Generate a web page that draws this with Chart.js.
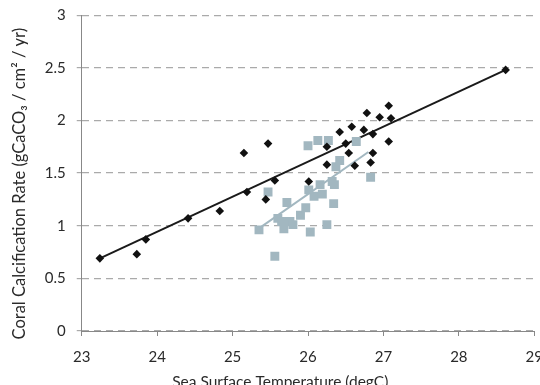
<!DOCTYPE html>
<html>
<head>
<meta charset="utf-8">
<script src="https://cdn.jsdelivr.net/npm/chart.js@4.4.0/dist/chart.umd.min.js"></script>
<style>
  html, body { margin: 0; padding: 0; background: #fff; overflow: hidden; }
  #wrap { width: 540px; height: 385px; overflow: hidden; }
</style>
</head>
<body>
<div id="wrap"><canvas id="myChart"></canvas></div>
<script>
// black diamonds: temperature (degC) and calcification rate
const blackTemp = [23.24, 23.73, 23.85, 24.41, 24.83, 25.15, 25.19, 25.44, 25.47, 25.56,
  26.01, 26.25, 26.25, 26.42, 26.50, 26.54, 26.58, 26.62, 26.74, 26.78,
  26.86, 26.86, 26.83, 26.95, 27.07, 27.10, 27.07, 28.62];
const blackRate = [0.69, 0.73, 0.87, 1.07, 1.14, 1.69, 1.32, 1.25, 1.78, 1.43,
  1.42, 1.75, 1.58, 1.89, 1.78, 1.69, 1.94, 1.57, 1.91, 2.07,
  1.87, 1.69, 1.60, 2.03, 2.14, 2.02, 1.80, 2.48];

// grey squares
const greyTemp = [25.35, 25.47, 25.56, 25.60, 25.65, 25.68, 25.72, 25.76, 25.80, 25.90,
  25.97, 26.00, 26.01, 26.03, 26.08, 26.13, 26.16, 26.19, 26.25, 26.27,
  26.32, 26.34, 26.35, 26.37, 26.42, 26.64, 26.83];
const greyRate = [0.96, 1.32, 0.71, 1.07, 1.04, 0.97, 1.22, 1.04, 1.01, 1.10,
  1.17, 1.76, 1.34, 0.94, 1.28, 1.81, 1.39, 1.30, 1.01, 1.81,
  1.42, 1.21, 1.39, 1.56, 1.62, 1.80, 1.46];

// trend line end points
const blackTrendTemp = [23.24, 28.62];
const blackTrendRate = [0.69, 2.48];
const greyTrendTemp = [25.35, 26.80];
const greyTrendRate = [0.975, 1.70];

const xTicks = [23, 24, 25, 26, 27, 28, 29];
const yTicks = [0, 0.5, 1, 1.5, 2, 2.5, 3];

function toPoints(xs, ys) {
  let pts = [];
  for (let i = 0; i < xs.length; i++) {
    pts.push({ x: xs[i], y: ys[i] });
  }
  return pts;
}

const blackColor = "#111111";
const greyColor = "#a2b7c0";
const font = "Lato, 'DejaVu Sans', sans-serif";

const data = {
  datasets: [
    {
      type: "line",
      data: toPoints(blackTrendTemp, blackTrendRate),
      borderColor: "#1a1a1a",
      borderWidth: 2,
      pointRadius: 0,
      order: 3,
    },
    {
      type: "line",
      data: toPoints(greyTrendTemp, greyTrendRate),
      borderColor: greyColor,
      borderWidth: 2,
      pointRadius: 0,
      order: 1,
    },
    {
      data: toPoints(greyTemp, greyRate),
      pointStyle: "rect",
      pointRadius: 6.3,
      backgroundColor: greyColor,
      borderColor: greyColor,
      borderWidth: 0,
      order: 2,
    },
    {
      data: toPoints(blackTemp, blackRate),
      pointStyle: "rectRot",
      pointRadius: 4.3,
      backgroundColor: blackColor,
      borderColor: blackColor,
      borderWidth: 0,
      order: 0,
    },
  ],
};

const config = {
  type: "scatter",
  data: data,
  options: {
    responsive: false,
    animation: false,
    layout: { padding: { top: -1, right: 0, bottom: -6, left: 0 } },
    plugins: {
      legend: { display: false },
      tooltip: { enabled: false },
    },
    scales: {
      x: {
        type: "linear",
        min: xTicks[0],
        max: xTicks[xTicks.length - 1],
        afterBuildTicks: (axis) => { axis.ticks = xTicks.map((v) => ({ value: v })); },
        ticks: { color: "#2a2a2a", font: { family: font, size: 15, lineHeight: 0.8 }, padding: 15 },
        grid: { drawOnChartArea: false, drawTicks: true, tickLength: 5, color: "#888", tickColor: "#888" },
        border: { display: true, color: "#888", width: 1 },
        title: {
          display: true,
          // trailing spaces move the centred text left, like the original
          text: "Sea Surface Temperature (degC)" + "\u00a0".repeat(14),
          color: "#2a2a2a",
          font: { family: font, size: 15.5 },
          padding: { top: -5.6, bottom: 0 },
        },
      },
      y: {
        type: "linear",
        min: yTicks[0],
        max: yTicks[yTicks.length - 1],
        afterBuildTicks: (axis) => { axis.ticks = yTicks.map((v) => ({ value: v })); },
        ticks: {
          color: "#2a2a2a",
          font: { family: font, size: 15, lineHeight: 0.55 },
          padding: 11,
          callback: (value) => String(value),
        },
        grid: { color: "#aaaaaa", lineWidth: 1.2, tickLength: 5, tickColor: "#aaaaaa" },
        border: { display: true, color: "#888", width: 1, dash: [7, 5] },
        title: {
          display: true,
          text: "Coral Calcification Rate (gCaCO\u2083 / cm\u00b2 / yr)" + "\u00a0".repeat(5),
          color: "#2a2a2a",
          font: { family: font, size: 16.5 },
          padding: { top: 10, bottom: 4 },
        },
      },
    },
  },
};

const canvas = document.getElementById("myChart");
canvas.width = 558;
canvas.height = 385;
const myChart = new Chart(canvas, config);
</script>
</body>
</html>
